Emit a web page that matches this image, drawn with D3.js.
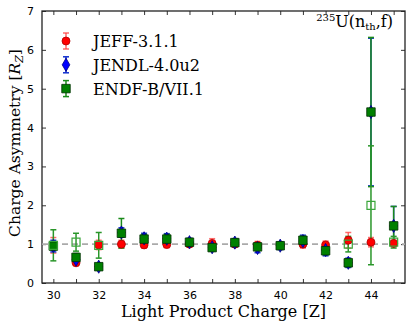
<!DOCTYPE html>
<html>
<head>
<meta charset="utf-8">
<script src="https://cdn.jsdelivr.net/npm/d3@7"></script>
<style>
  body { margin: 0; background: #fff; }
  .tick text { font-family: "DejaVu Sans", sans-serif; font-size: 11px; fill: #000; }
  .serif { font-family: "DejaVu Serif", serif; }
</style>
</head>
<body>
<div id="chart"></div>
<script>
const dim = { width: 416, height: 325 };
const margin = { top: 11, left: 42, right: 11, bottom: 42 };

// charge numbers
const charges = [30, 31, 32, 33, 34, 35, 36, 37, 38, 39, 40, 41, 42, 43, 44, 45];

// JEFF-3.1.1
const jeffVal = [0.97, 0.52, 0.98, 1.00, 0.98, 0.99, 1.00, 1.02, 1.00, 0.97, 0.96, 1.00, 0.98, 1.10, 1.05, 1.02];
const jeffErr = [0.20, 0.07, 0.12, 0.10, 0.08, 0.08, 0.06, 0.12, 0.06, 0.10, 0.06, 0.10, 0.10, 0.20, 0.12, 0.08];

// JENDL-4.0u2
const jendlVal = [0.95, 0.60, 0.42, 1.30, 1.15, 1.14, 1.05, 0.92, 1.04, 0.90, 0.96, 1.08, 0.85, 0.52, 4.40, 1.47];
const jendlErr = [0.15, 0.12, 0.08, 0.12, 0.13, 0.13, 0.10, 0.10, 0.10, 0.12, 0.10, 0.15, 0.15, 0.12, 1.90, 0.50];

// ENDF-B/VII.1
const endfVal = [0.95, 0.66, 0.42, 1.28, 1.13, 1.13, 1.05, 0.91, 1.04, 0.93, 0.96, 1.10, 0.83, 0.52, 4.40, 1.47];
const endfErr = [0.10, 0.10, 0.06, 0.38, 0.12, 0.12, 0.08, 0.08, 0.08, 0.08, 0.08, 0.10, 0.10, 0.10, 1.92, 0.50];

// ENDF open markers (no legend entry)
const openZ = [30, 31, 32, 43, 44, 45];
const openVal = [0.97, 1.05, 0.97, 1.00, 2.00, 1.05];
const openErr = [0.40, 0.23, 0.33, 0.20, 1.53, 0.15];

const xTicks = d3.range(30, 46, 1);
const xLabels = [30, 32, 34, 36, 38, 40, 42, 44];
const yTicks = [0, 1, 2, 3, 4, 5, 6, 7];

const svg = d3.select("#chart").append("svg")
    .attr("width", dim.width)
    .attr("height", dim.height);

const x = d3.scaleLinear()
    .domain([29.5, 45.5])
    .range([margin.left, dim.width - margin.right]);

const y = d3.scaleLinear()
    .domain([0, 7])
    .range([dim.height - margin.bottom, margin.top]);

// axes with inward ticks on every side
svg.append("g")
    .attr("transform", `translate(0,${y(0)})`)
    .call(d3.axisBottom(x).tickValues(xTicks).tickSizeInner(-4).tickSizeOuter(0).tickPadding(8)
        .tickFormat(d => xLabels.includes(d) ? d : ""));
svg.append("g")
    .attr("transform", `translate(0,${y(7)})`)
    .call(d3.axisTop(x).tickValues(xTicks).tickSizeInner(-4).tickSizeOuter(0).tickFormat(""));
svg.append("g")
    .attr("transform", `translate(${x(29.5)},0)`)
    .call(d3.axisLeft(y).tickValues(yTicks).tickSizeInner(-4).tickSizeOuter(0).tickPadding(8)
        .tickFormat(d3.format("d")));
svg.append("g")
    .attr("transform", `translate(${x(45.5)},0)`)
    .call(d3.axisRight(y).tickValues(yTicks).tickSizeInner(-4).tickSizeOuter(0).tickFormat(""));

svg.selectAll(".domain").attr("stroke", "none");
svg.selectAll(".tick line").attr("stroke", "#333");
svg.selectAll(".tick text").filter(function() { return this.textContent === ""; }).remove();

svg.append("rect")
    .attr("x", x(29.5)).attr("y", y(7))
    .attr("width", x(45.5) - x(29.5)).attr("height", y(0) - y(7))
    .attr("fill", "none").attr("stroke", "#222").attr("stroke-width", 1.3);

// reference line at 1
svg.append("line")
    .attr("x1", x(29.5)).attr("x2", x(45.5))
    .attr("y1", y(1)).attr("y2", y(1))
    .attr("stroke", "#aaa").attr("stroke-width", 1.6)
    .attr("stroke-dasharray", "6,4");

const series = [
    { name: "JEFF-3.1.1", z: charges, v: jeffVal, e: jeffErr, shape: d3.symbolCircle, size: 50, fill: "#ff0000", edge: "#b00000", bar: "rgba(255,60,60,0.75)" },
    { name: "JENDL-4.0u2", z: charges, v: jendlVal, e: jendlErr, shape: d3.symbolDiamond, size: 50, fill: "#0000ff", edge: "#000080", bar: "#1030d0" },
    { name: "ENDF-B/VII.1", z: charges, v: endfVal, e: endfErr, shape: d3.symbolSquare, size: 72, fill: "#008000", edge: "#003000", bar: "#1a8a1a" },
    { name: null, z: openZ, v: openVal, e: openErr, shape: d3.symbolSquare, size: 64, fill: "none", edge: "#3aa63a", bar: "#2a962a" }
];

const cap = 3;
const barLayer = svg.append("g");
const markLayer = svg.append("g");

series.forEach(s => {
    const pts = s.z.map((z, i) => ({ z: z, v: s.v[i], e: s.e[i] }));
    const g = barLayer.append("g").attr("stroke", s.bar).attr("stroke-width", 1.5);
    g.selectAll(".bar").data(pts).enter().append("line")
        .attr("x1", d => x(d.z)).attr("x2", d => x(d.z))
        .attr("y1", d => y(d.v - d.e)).attr("y2", d => y(d.v + d.e));
    g.selectAll(".capT").data(pts).enter().append("line")
        .attr("x1", d => x(d.z) - cap).attr("x2", d => x(d.z) + cap)
        .attr("y1", d => y(d.v + d.e)).attr("y2", d => y(d.v + d.e));
    g.selectAll(".capB").data(pts).enter().append("line")
        .attr("x1", d => x(d.z) - cap).attr("x2", d => x(d.z) + cap)
        .attr("y1", d => y(d.v - d.e)).attr("y2", d => y(d.v - d.e));
    markLayer.selectAll(null).data(pts).enter().append("path")
        .attr("d", d3.symbol().type(s.shape).size(s.size))
        .attr("transform", d => `translate(${x(d.z)},${y(d.v)})`)
        .attr("fill", s.fill)
        .attr("stroke", s.edge)
        .attr("stroke-width", s.fill === "none" ? 1.2 : 0.8);
});

// legend
const legend = svg.append("g");
series.filter(s => s.name).forEach((s, i) => {
    const ly = 41 + i * 23.8;
    const lx = 66;
    const g = legend.append("g").attr("stroke", s.bar).attr("stroke-width", 1.5);
    g.append("line").attr("x1", lx).attr("x2", lx).attr("y1", ly - 8).attr("y2", ly + 8);
    g.append("line").attr("x1", lx - cap).attr("x2", lx + cap).attr("y1", ly - 8).attr("y2", ly - 8);
    g.append("line").attr("x1", lx - cap).attr("x2", lx + cap).attr("y1", ly + 8).attr("y2", ly + 8);
    legend.append("path")
        .attr("d", d3.symbol().type(s.shape).size(s.size))
        .attr("transform", `translate(${lx},${ly})`)
        .attr("fill", s.fill).attr("stroke", s.edge).attr("stroke-width", 0.8);
    legend.append("text")
        .attr("class", "serif")
        .attr("x", 93).attr("y", ly + 6)
        .attr("font-size", 16)
        .text(s.name);
});

// annotation
const ann = svg.append("text")
    .attr("class", "serif")
    .attr("x", 393).attr("y", 27)
    .attr("text-anchor", "end")
    .attr("font-size", 16);
ann.append("tspan").attr("font-size", 10).attr("dy", -6).text("235");
ann.append("tspan").attr("dy", 6).text("U(n");
ann.append("tspan").attr("font-size", 10).attr("dy", 3).text("th");
ann.append("tspan").attr("dy", -3).text(",f)");

// axis labels
svg.append("text")
    .attr("class", "serif")
    .attr("x", (x(29.5) + x(45.5)) / 2)
    .attr("y", 317)
    .attr("text-anchor", "middle")
    .attr("font-size", 16)
    .text("Light Product Charge [Z]");

const yl = svg.append("text")
    .attr("class", "serif")
    .attr("transform", `translate(20,143) rotate(-90)`)
    .attr("text-anchor", "middle")
    .attr("font-size", 15.5);
yl.append("tspan").text("Charge Asymmetry [");
yl.append("tspan").attr("font-style", "italic").text("R");
yl.append("tspan").attr("font-style", "italic").attr("font-size", 11).attr("dy", 3).text("Z");
yl.append("tspan").attr("dy", -3).text("]");
</script>
</body>
</html>
